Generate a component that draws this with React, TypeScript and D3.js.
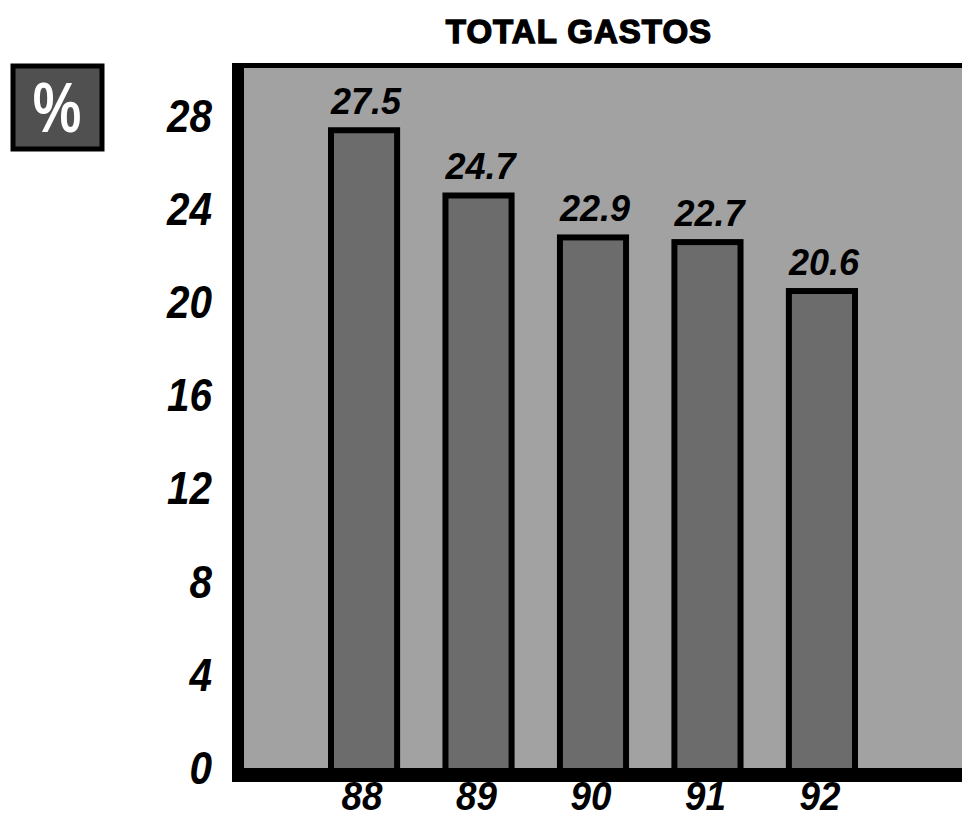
import { useRef, useEffect } from "react";
import * as d3 from "d3";

const years = ["88", "89", "90", "91", "92"];
const values = [27.5, 24.7, 22.9, 22.7, 20.6];
const yTicks = [0, 4, 8, 12, 16, 20, 24, 28];
const title = "TOTAL GASTOS";
const unit = "%";

const width = 962;
const height = 819;

const App = () => {
  const ref = useRef<SVGSVGElement>(null);

  useEffect(() => {
    document.body.style.margin = "0";
    if (!ref.current) return;
    const svg = d3.select(ref.current);
    svg.selectAll("*").remove();

    const frameLeft = 232;
    const plotLeft = 244;
    const plotTop = 68;
    const zeroY = 768;

    const x = d3
      .scaleBand<string>()
      .domain(years)
      .range([328, 858])
      .paddingInner(0.37)
      .paddingOuter(0);

    const y = d3.scaleLinear().domain([0, 30]).range([zeroY, 69]);

    const font = "'Liberation Sans', Arial, sans-serif";

    // plot background
    svg
      .append("rect")
      .attr("x", plotLeft)
      .attr("y", plotTop)
      .attr("width", width - plotLeft)
      .attr("height", zeroY - plotTop)
      .attr("fill", "#a2a2a2");

    // bars
    const sw = 6;
    svg
      .selectAll(".bar")
      .data(values)
      .enter()
      .append("rect")
      .attr("class", "bar")
      .attr("x", (_, i) => (x(years[i]) ?? 0) + sw / 2)
      .attr("y", (d) => y(d) + sw / 2)
      .attr("width", x.bandwidth() - sw)
      .attr("height", (d) => zeroY - y(d))
      .attr("fill", "#6c6c6c")
      .attr("stroke", "#000")
      .attr("stroke-width", sw);

    // value labels
    svg
      .selectAll(".val")
      .data(values)
      .enter()
      .append("text")
      .attr("class", "val")
      .attr("x", (_, i) => (x(years[i]) ?? 0) + x.bandwidth() / 2 + 2)
      .attr("y", (d) => y(d) - 13)
      .attr("text-anchor", "middle")
      .attr("font-family", font)
      .attr("font-weight", "bold")
      .attr("font-style", "italic")
      .attr("font-size", 36)
      .attr("fill", "#000")
      .text((d) => d.toFixed(1));

    // frame: left, top, bottom
    svg
      .append("rect")
      .attr("x", frameLeft)
      .attr("y", 63)
      .attr("width", plotLeft - frameLeft)
      .attr("height", 782 - 63)
      .attr("fill", "#000");
    svg
      .append("rect")
      .attr("x", frameLeft)
      .attr("y", 63)
      .attr("width", width - frameLeft)
      .attr("height", plotTop - 63)
      .attr("fill", "#000");
    svg
      .append("rect")
      .attr("x", frameLeft)
      .attr("y", zeroY)
      .attr("width", width - frameLeft)
      .attr("height", 14)
      .attr("fill", "#000");

    // y tick labels (condensed)
    svg
      .selectAll(".ytick")
      .data(yTicks)
      .enter()
      .append("text")
      .attr("class", "ytick")
      .attr("transform", (d) => `translate(212,${y(d) + 16}) scale(0.88,1)`)
      .attr("text-anchor", "end")
      .attr("font-family", font)
      .attr("font-weight", "bold")
      .attr("font-style", "italic")
      .attr("font-size", 46)
      .attr("fill", "#000")
      .text((d) => d);

    // x labels
    svg
      .selectAll(".xtick")
      .data(years)
      .enter()
      .append("text")
      .attr("class", "xtick")
      .attr(
        "transform",
        (d) => `translate(${(x(d) ?? 0) + x.bandwidth() / 2 - 2},810) scale(0.92,1)`
      )
      .attr("text-anchor", "middle")
      .attr("font-family", font)
      .attr("font-weight", "bold")
      .attr("font-style", "italic")
      .attr("font-size", 40)
      .attr("fill", "#000")
      .text((d) => d);

    // title
    svg
      .append("text")
      .attr("x", 579)
      .attr("y", 43)
      .attr("text-anchor", "middle")
      .attr("font-family", font)
      .attr("font-weight", "bold")
      .attr("font-size", 33)
      .attr("letter-spacing", 1)
      .attr("fill", "#000")
      .attr("stroke", "#000")
      .attr("stroke-width", 1.4)
      .text(title);

    // unit box
    svg
      .append("rect")
      .attr("x", 13)
      .attr("y", 66)
      .attr("width", 89)
      .attr("height", 83)
      .attr("fill", "#505050")
      .attr("stroke", "#000")
      .attr("stroke-width", 5);
    svg
      .append("text")
      .attr("transform", "translate(57,132) scale(0.78,1)")
      .attr("text-anchor", "middle")
      .attr("font-family", font)
      .attr("font-weight", "bold")
      .attr("font-size", 70)
      .attr("fill", "#fff")
      .text(unit);
  }, []);

  return <svg ref={ref} width={width} height={height} style={{ display: "block" }} />;
};

export default App;
